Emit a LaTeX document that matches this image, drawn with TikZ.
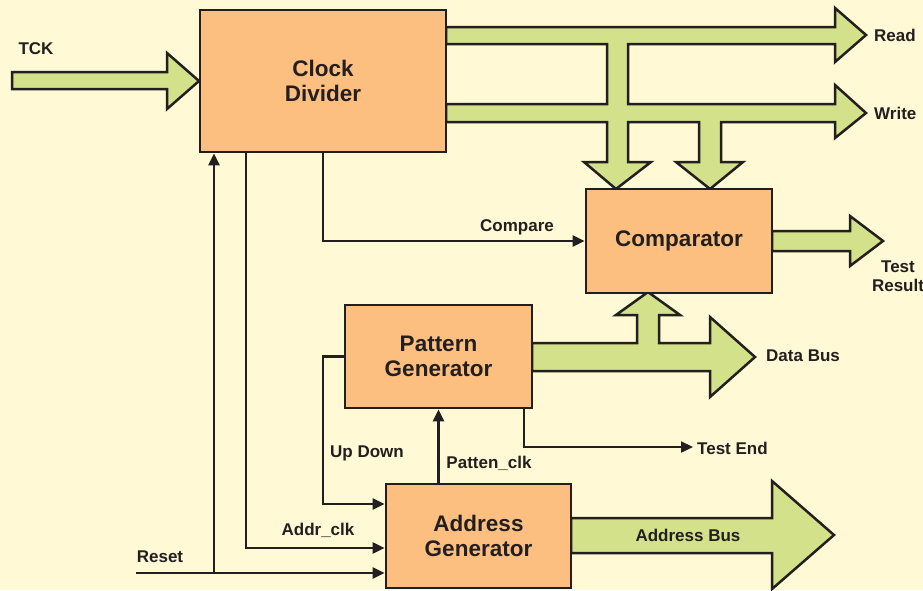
\documentclass[tikz,border=0pt]{standalone}
\usepackage{fontspec}
\setmainfont{Liberation Sans}
\usetikzlibrary{arrows.meta}
\definecolor{bg}{HTML}{FFF9D5}
\definecolor{boxc}{HTML}{FDBF80}
\definecolor{busc}{HTML}{D3E18A}
\definecolor{ln}{HTML}{231F20}
\begin{document}
\begin{tikzpicture}[x=1pt,y=-1pt,
 box/.style={draw=ln, fill=boxc, line width=2.8pt, inner sep=0pt, align=center, font=\fontsize{22.5}{25}\selectfont\bfseries, text=ln},
 bus/.style={draw=ln, fill=busc, line width=2.5pt, line join=miter},
 sig/.style={draw=ln, line width=2.3pt, -{Triangle[length=12pt,width=11pt]}},
 lab/.style={font=\fontsize{17}{19}\selectfont\bfseries, text=ln, inner sep=0pt, align=center}]
\fill[bg] (0,0) rectangle (923,590);
\useasboundingbox (0,0) rectangle (923,590);

% buses
\draw[bus] (12,72) -- (167,72) -- (167,53) -- (199,81) -- (167,109) -- (167,89) -- (12,89) -- cycle;
\draw[bus] (446,27) -- (835,27) -- (835,8) -- (866,35) -- (835,62) -- (835,44) -- (628,44) -- (628,104)
  -- (835,104) -- (835,85) -- (866,113) -- (835,138) -- (835,122) -- (721,122) -- (721,162)
  -- (743,162) -- (710,189) -- (676,162) -- (699,162) -- (699,122) -- (628,122) -- (628,162)
  -- (651,162) -- (616,189) -- (584,162) -- (607,162) -- (607,122) -- (446,122) -- (446,104)
  -- (607,104) -- (607,44) -- (446,44) -- cycle;
\draw[bus] (772,231) -- (850,231) -- (850,216) -- (883,241) -- (850,266) -- (850,251) -- (772,251) -- cycle;
\draw[bus] (532,343) -- (637,343) -- (637,315) -- (616,315) -- (648,292) -- (680,315) -- (659,315)
  -- (659,343) -- (710,343) -- (710,317) -- (755,357) -- (710,397) -- (710,371) -- (532,371) -- cycle;
\draw[bus] (571,518) -- (772,518) -- (772,481) -- (834,535) -- (772,589) -- (772,553) -- (571,553) -- cycle;

% boxes
\node[box, minimum width=246pt, minimum height=142pt] (CD) at (323,81) {Clock\\Divider};
\node[box, minimum width=186pt, minimum height=104pt] (CMP) at (679,241) {Comparator};
\node[box, minimum width=187pt, minimum height=103pt] (PG) at (438.5,356.5) {Pattern\\Generator};
\node[box, minimum width=185pt, minimum height=104pt] (AG) at (478.5,536) {Address\\Generator};

% coordinates
\coordinate (reset) at (136,573);
\coordinate (rj) at (214,573);
\coordinate (ac) at (246,548);
\coordinate (ud) at (323,504);
\coordinate (te0) at (524,447);
\coordinate (te) at (693,447);

% signals
\draw[sig] (CD.south) |- (CMP.west);
\draw[sig] (reset) -- (AG.west |- reset);
\draw[sig] (rj) -- (CD.south -| rj);
\draw[sig] (CD.south -| ac) |- (AG.west |- ac);
\draw[sig] (PG.west) -| (ud) -- (AG.west |- ud);
\draw[sig] (AG.north -| PG.south) -- (PG.south);
\draw[sig] (PG.south -| te0) |- (te);

% labels
\node[lab] (lTCK) at (36,49) {TCK};
\node[lab, anchor=west] (lRead) at (874,35) {Read};
\node[lab, anchor=west] (lWrite) at (874,113) {Write};
\node[lab] (lCmp) at (517,227) {Compare};
\node[lab] (lTR) at (898,276) {Test\\Result};
\node[lab, anchor=west] (lDB) at (766,356) {Data Bus};
\node[lab, anchor=west] (lTE) at (697,448) {Test End};
\node[lab] (lUD) at (367,453) {Up Down};
\node[lab] (lPC) at (489,463) {Patten\_clk};
\node[lab] (lAC) at (318,530) {Addr\_clk};
\node[lab] (lRS) at (160,557) {Reset};
\node[lab] (lAB) at (688,535) {Address Bus};
\end{tikzpicture}
\end{document}
